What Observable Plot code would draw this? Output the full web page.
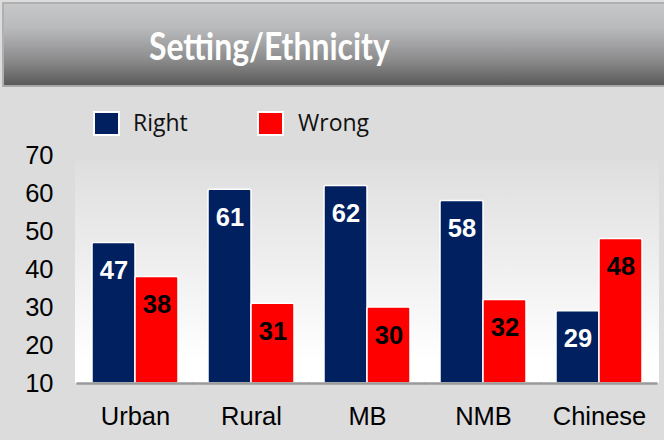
<!DOCTYPE html>
<html>
<head>
<meta charset="utf-8">
<script src="https://cdn.jsdelivr.net/npm/d3@7"></script>
<script src="https://cdn.jsdelivr.net/npm/@observablehq/plot@0.6"></script>
<style>
  html, body { margin: 0; padding: 0; }
  body { width: 664px; height: 440px; background: #dcdcdc; position: relative; overflow: hidden; }
  #title {
    position: absolute; left: 2px; top: 2px; width: 664px; height: 85px;
    background: linear-gradient(to bottom, #c6c7c9 0%, #b9babc 30%, #8a8a8b 70%, #5a5a5a 100%);
    border-top: 2px solid #b0b0b0; border-left: 2px solid #b0b0b0; border-bottom: 2px solid #a8a8a8;
    box-sizing: border-box;
  }
  #title span {
    position: absolute; left: 145px; top: 22px;
    font-family: Lato, "Open Sans", sans-serif; font-weight: 700; font-size: 38px; color: #fff;
    line-height: 1; white-space: nowrap; transform: scaleX(0.84); transform-origin: 0 0;
  }
  #plotbg {
    position: absolute; left: 75px; top: 160px; width: 584px; height: 223px;
    background: linear-gradient(to bottom, #dedede 0%, #f2f2f2 55%, #ffffff 90%);
  }
  #legend { position: absolute; left: 0; top: 0; font-family: "Open Sans", Lato, sans-serif; font-size: 23px; color: #111; }
  .sw { position: absolute; width: 23px; height: 21px; border: 2px solid #fff; }
  .lt { position: absolute; line-height: 1; white-space: nowrap; }
  #chart { position: absolute; left: 0; top: 140px; }
</style>
</head>
<body>
<div id="title"><span>Setting/Ethnicity</span></div>
<div id="plotbg"></div>
<div id="legend"></div>
<div id="chart"></div>
<script>
const categories = ["Urban", "Rural", "MB", "NMB", "Chinese"];
const series = ["Right", "Wrong"];
const rightValues = [47, 61, 62, 58, 29];
const wrongValues = [38, 31, 30, 32, 48];
const yTicks = [10, 20, 30, 40, 50, 60, 70];
const seriesColors = ["#002060", "#ff0000"];
const labelColors = ["#ffffff", "#000000"];

const data = [];
categories.forEach((c, i) => {
  data.push({category: c, series: "Right", value: rightValues[i]});
  data.push({category: c, series: "Wrong", value: wrongValues[i]});
});

// Legend (HTML)
const legend = document.getElementById("legend");
const legendPos = [{sx: 93, tx: 133}, {sx: 257, tx: 298}];
series.forEach((s, i) => {
  const sw = document.createElement("div");
  sw.className = "sw";
  sw.style.left = legendPos[i].sx + "px";
  sw.style.top = "111px";
  sw.style.background = seriesColors[i];
  legend.appendChild(sw);
  const t = document.createElement("div");
  t.className = "lt";
  t.textContent = s;
  t.style.left = legendPos[i].tx + "px";
  t.style.top = "111px";
  legend.appendChild(t);
});

const chart = Plot.plot({
  width: 664,
  height: 300,
  marginLeft: 75,
  marginRight: 5,
  marginTop: 15,
  marginBottom: 57,
  style: {background: "transparent", fontFamily: "Arial, 'Liberation Sans', sans-serif", overflow: "visible"},
  fx: {domain: categories, paddingInner: 0.26, paddingOuter: 0.13, label: null},
  x: {domain: series, padding: 0, axis: null},
  y: {domain: [10, 70], ticks: yTicks, label: null},
  color: {domain: series, range: seriesColors},
  marks: [
    Plot.axisY({ticks: yTicks, tickSize: 0, tickPadding: 39, fontSize: 25.5, fill: "#000", label: null}),
    Plot.axisFx({anchor: "bottom", tickSize: 0, tickPadding: 23, fontSize: 25.5, fill: "#000", label: null}),
    Plot.barY(data, {fx: "category", x: "series", y1: 10, y2: "value", fill: "series", stroke: "#ffffff", strokeWidth: 1.5, rx: 1.5}),
    Plot.ruleY([10], {stroke: "#9a9a9a", strokeWidth: 2.5, insetLeft: -15.5, insetRight: -15.5}),
    Plot.text(data, {fx: "category", x: "series", y: "value", text: d => String(d.value), dy: 28,
      fill: d => labelColors[series.indexOf(d.series)], fontSize: 25.5, fontWeight: "bold"})
  ]
});
document.getElementById("chart").appendChild(chart);
</script>
</body>
</html>
